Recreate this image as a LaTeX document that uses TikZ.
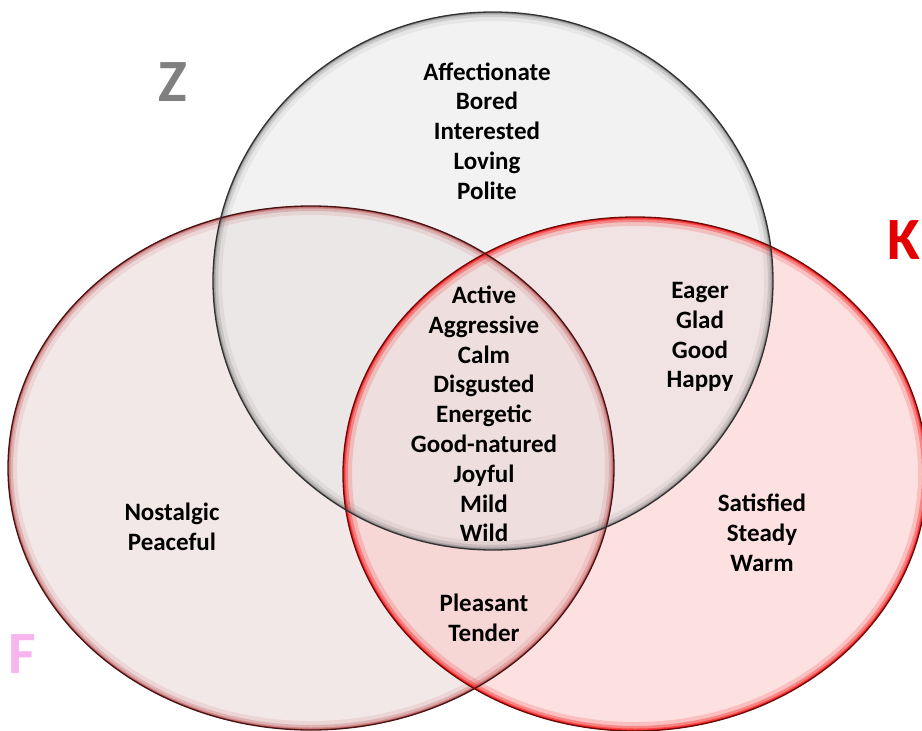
\documentclass[tikz,border=0pt]{standalone}
\usepackage{fontspec}
\setmainfont{Carlito}
\definecolor{fcol}{RGB}{231,209,209}
\definecolor{kcol}{RGB}{251,196,196}
\definecolor{zcol}{RGB}{230,230,230}
\definecolor{frim}{RGB}{70,20,20}
\definecolor{krim}{RGB}{110,10,10}
\definecolor{zrim}{RGB}{50,50,50}
\definecolor{fglow}{RGB}{170,40,40}
\definecolor{kglow}{RGB}{245,20,20}
\definecolor{zglow}{RGB}{80,80,80}
\definecolor{pinkF}{RGB}{248,180,238}
\begin{document}
\begin{tikzpicture}[x=1pt,y=-1pt,words/.style={align=center,inner sep=0,font=\bfseries\fontsize{25}{29.8}\selectfont},setname/.style={inner sep=0,font=\bfseries\fontsize{60}{60}\selectfont},rim/.style={line width=1.3pt},tint/.style={fill opacity=0.5}]
\useasboundingbox (0,0) rectangle (922,731);
\def\setF{(311,468) ellipse [x radius=303,y radius=262]};
\def\setK{(635,474) ellipse [x radius=292,y radius=257]};
\def\setZ{(493,281) ellipse [x radius=280,y radius=269]};

% fills
\fill[fcol,tint] \setF;
\fill[kcol,tint] \setK;
\fill[zcol,tint] \setZ;

% inner glow along the rims
\foreach \s/\g/\o in {F/fglow/0.5,K/kglow/0.85,Z/zglow/0.4}{
  \begin{scope}
    \clip \csname set\s\endcsname;
    \draw[\g,line width=18pt,opacity=0.2*\o] \csname set\s\endcsname;
    \draw[\g,line width=10pt,opacity=0.4*\o] \csname set\s\endcsname;
    \draw[\g,line width=5pt,opacity=0.6*\o] \csname set\s\endcsname;
    \draw[\g,line width=2.5pt,opacity=\o] \csname set\s\endcsname;
  \end{scope}
}

% rims
\draw[frim,rim] \setF;
\draw[krim,rim] \setK;
\draw[zrim,rim] \setZ;

% set names
\node[setname,gray] (Z) at (173,82) {Z};
\node[setname,red!90!black,anchor=east] (K) at (921,240) {K};
\node[setname,pinkF] (F) at (22,654) {F};

% regions
\node[words] (Zonly) at (487,131) {Affectionate\\Bored\\Interested\\Loving\\Polite};
\node[words] (FZK) at (484,414) {Active\\Aggressive\\Calm\\Disgusted\\Energetic\\Good-natured\\Joyful\\Mild\\Wild};
\node[words] (ZK) at (700,337) {Eager\\Glad\\Good\\Happy};
\node[words] (Fonly) at (172,527) {Nostalgic\\Peaceful};
\node[words] (Konly) at (762,533) {Satisfied\\Steady\\Warm};
\node[words] (FK) at (484,618) {Pleasant\\Tender};
\end{tikzpicture}
\end{document}
